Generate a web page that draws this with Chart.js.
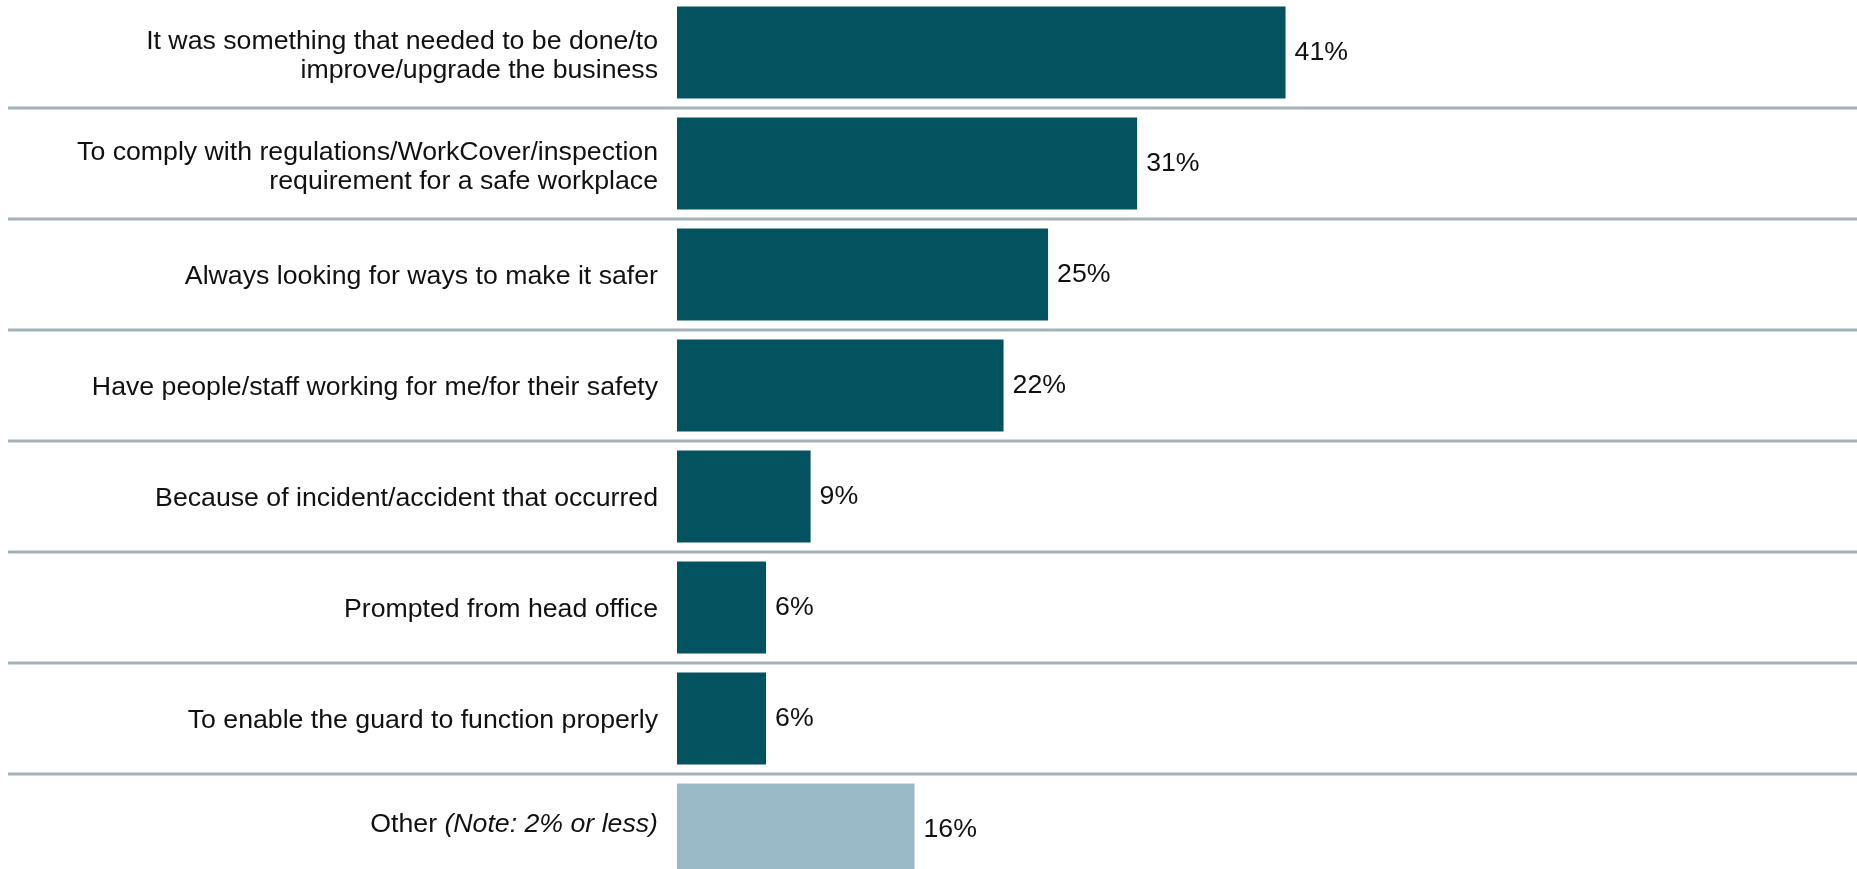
<!DOCTYPE html>
<html>
<head>
<meta charset="utf-8">
<script src="https://cdn.jsdelivr.net/npm/chart.js@4"></script>
<style>
  html, body { margin: 0; padding: 0; background: #ffffff; overflow: hidden; }
  #wrap { position: absolute; left: 0; top: -3px; width: 1857px; height: 888px; }
</style>
</head>
<body>
<div id="wrap"><canvas id="reasons" width="1857" height="888"></canvas></div>
<script>
// reasons for installing the guard, share of respondents (%)
const reasons = [
    ["It was something that needed to be done/to", "improve/upgrade the business"],
    ["To comply with regulations/WorkCover/inspection", "requirement for a safe workplace"],
    "Always looking for ways to make it safer",
    "Have people/staff working for me/for their safety",
    "Because of incident/accident that occurred",
    "Prompted from head office",
    "To enable the guard to function properly",
    "Other (Note: 2% or less)"
];

const shares = [41, 31, 25, 22, 9, 6, 6, 16];

const barColors = ["#02525f", "#02525f", "#02525f", "#02525f", "#02525f", "#02525f", "#02525f", "#99b9c6"];

// the "Other" row gets a plain word followed by an italic note
const otherWord = "Other ";
const otherNote = "(Note: 2% or less)";

const FONT = "'Liberation Sans', Arial, sans-serif";
const FONT_SIZE = 26.7;
const LINE_STEP = 29;
const TEXT_COLOR = "#111111";
const AXIS_WIDTH = 677;
const LABEL_GAP = 19;

// grey rule between each pair of rows, running under the labels as well
const rowRules = {
    id: "rowRules",
    beforeDatasetsDraw(chart) {
        const y = chart.scales.y;
        const ctx = chart.ctx;
        ctx.save();
        ctx.strokeStyle = "#a3b1b9";
        ctx.lineWidth = 3;
        for (let i = 0; i < reasons.length - 1; i++) {
            const py = Math.round((y.getPixelForValue(i) + y.getPixelForValue(i + 1)) / 2);
            ctx.beginPath();
            ctx.moveTo(8, py);
            ctx.lineTo(chart.width, py);
            ctx.stroke();
        }
        ctx.restore();
    }
};

// percentage to the right of each bar
const valueLabels = {
    id: "valueLabels",
    afterDatasetsDraw(chart) {
        const ctx = chart.ctx;
        const meta = chart.getDatasetMeta(0);
        ctx.save();
        ctx.font = FONT_SIZE + "px " + FONT;
        ctx.fillStyle = TEXT_COLOR;
        ctx.textAlign = "left";
        ctx.textBaseline = "middle";
        meta.data.forEach((bar, i) => {
            ctx.fillText(shares[i] + "%", bar.x + 9, bar.y);
        });
        ctx.restore();
    }
};

// category labels, right-aligned against the bars; wrapped labels are centred
// as a block, and the "Other" row mixes a plain word with an italic note
const rowLabels = {
    id: "rowLabels",
    afterDraw(chart) {
        const ctx = chart.ctx;
        const y = chart.scales.y;
        const right = chart.chartArea.left - LABEL_GAP;
        const last = reasons.length - 1;
        ctx.save();
        ctx.fillStyle = TEXT_COLOR;
        ctx.textBaseline = "middle";
        ctx.textAlign = "right";
        reasons.forEach((label, i) => {
            const centre = y.getPixelForValue(i);
            if (i === last) {
                ctx.font = "italic " + FONT_SIZE + "px " + FONT;
                const noteWidth = ctx.measureText(otherNote).width;
                ctx.fillText(otherNote, right, centre - 5);
                ctx.font = FONT_SIZE + "px " + FONT;
                ctx.fillText(otherWord, right - noteWidth, centre - 5);
                return;
            }
            ctx.font = FONT_SIZE + "px " + FONT;
            const lines = Array.isArray(label) ? label : [label];
            const top = centre + 2 - (lines.length - 1) * LINE_STEP / 2 + (lines.length > 1 ? 1.5 : 0);
            lines.forEach((line, j) => {
                ctx.fillText(line, right, top + j * LINE_STEP);
            });
        });
        ctx.restore();
    }
};

new Chart(document.getElementById("reasons"), {
    type: "bar",
    data: {
        labels: reasons,
        datasets: [{
            data: shares,
            backgroundColor: barColors,
            borderWidth: 0,
            barPercentage: 0.83,
            categoryPercentage: 1
        }]
    },
    options: {
        responsive: false,
        animation: false,
        indexAxis: "y",
        layout: { padding: 0 },
        plugins: {
            legend: { display: false },
            tooltip: { enabled: false }
        },
        scales: {
            x: {
                display: false,
                min: 0,
                max: 79.5
            },
            y: {
                grid: { display: false, drawTicks: false },
                border: { display: false },
                ticks: { display: false },
                afterFit(scale) {
                    // fixed label column; rows run the full canvas height
                    scale.width = AXIS_WIDTH;
                    scale.paddingTop = 0;
                    scale.paddingBottom = 0;
                }
            }
        }
    },
    plugins: [rowRules, valueLabels, rowLabels]
});
</script>
</body>
</html>
